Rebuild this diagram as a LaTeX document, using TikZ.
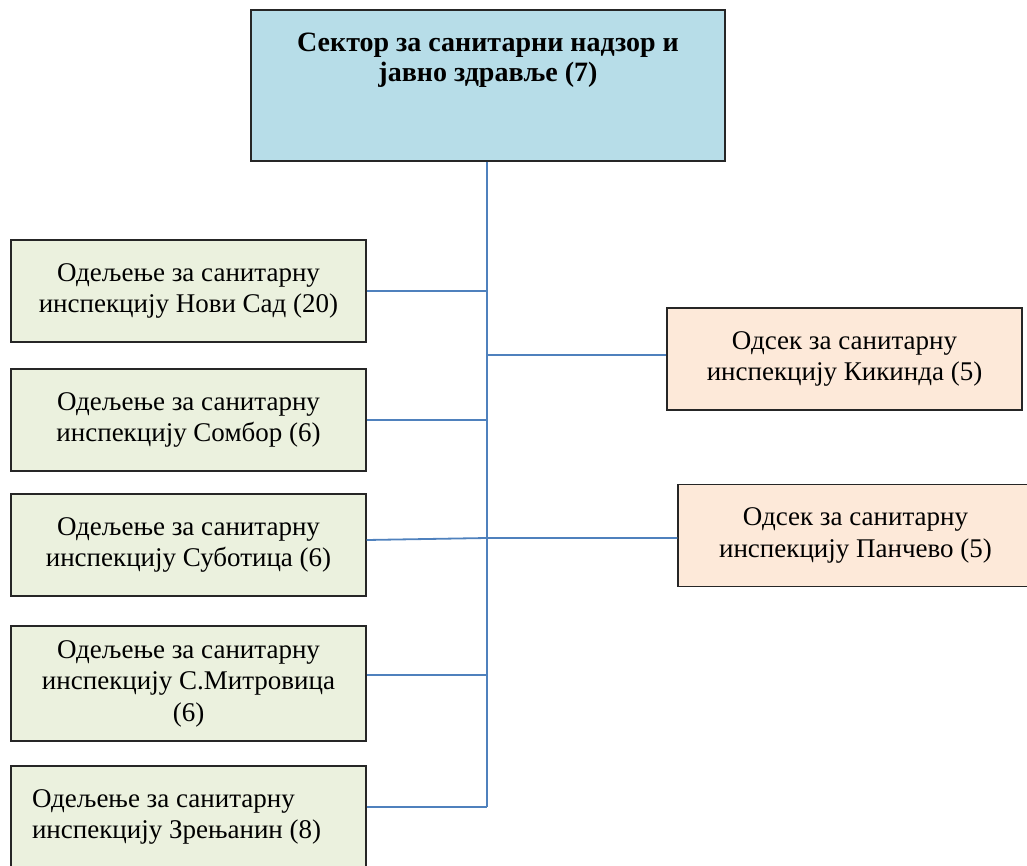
\documentclass[tikz,border=0pt]{standalone}
\usepackage{fontspec}
\setmainfont{Liberation Serif}
\definecolor{sectorblue}{HTML}{B7DDE8}
\definecolor{deptgreen}{HTML}{EBF1DE}
\definecolor{unitpeach}{HTML}{FDE9D9}
\definecolor{linkblue}{HTML}{4F81BD}
\begin{document}
\begin{tikzpicture}[
    x=1pt, y=-1pt,
    every node/.style={font=\fontsize{27}{31.5}\selectfont, align=center, inner sep=0pt},
    box/.style={draw=black!85, line width=1.3pt, minimum height=102pt},
    dept/.style={box, fill=deptgreen, minimum width=355pt},
    unit/.style={box, fill=unitpeach, minimum width=355pt},
    link/.style={draw=linkblue, line width=1.8pt}
    ]
    \useasboundingbox (0,0) rectangle (1027,866);

    \node[box, fill=sectorblue, minimum width=474pt, minimum height=151pt,
          text height=72pt, text depth=79pt, font=\fontsize{28}{30}\selectfont\bfseries]
          (sector) at (488,85.5) {Сектор за санитарни надзор и\\ јавно здравље (7)};

    \node[dept] (novisad) at (188.5,291) {Одељење за санитарну\\ инспекцију Нови Сад (20)};
    \node[dept] (sombor) at (188.5,420) {Одељење за санитарну\\ инспекцију Сомбор (6)};
    \node[dept] (subotica) at (188.5,545) {Одељење за санитарну\\ инспекцију Суботица (6)};
    \node[dept, minimum height=115pt] (mitrovica) at (188.5,683.5) {Одељење за санитарну\\ инспекцију С.Митровица\\ (6)};
    \node[dept, align=flush left, text width=313pt] (zrenjanin) at (188.5,817) {Одељење за санитарну\\ инспекцију Зрењанин (8)};

    \node[unit] (kikinda) at (844.5,359) {Одсек за санитарну\\ инспекцију Кикинда (5)};
    \node[unit] (pancevo) at (855.5,535.5) {Одсек за санитарну\\ инспекцију Панчево (5)};

    % spine and branches
    \coordinate (spineend) at (487,807);
    \draw[link] (sector.south -| spineend) -- (spineend);
    \draw[link] (novisad.east) -- (novisad.east -| spineend);
    \draw[link] (sombor.east) -- (sombor.east -| spineend);
    \draw[link] ([yshift=5pt]subotica.east) -- ([yshift=-2.5pt]pancevo.west -| spineend) -- ([yshift=-2.5pt]pancevo.west);
    \draw[link] ([yshift=8.5pt]mitrovica.east) -- ([yshift=8.5pt]mitrovica.east -| spineend);
    \draw[link] (zrenjanin.east |- spineend) -- (spineend);
    \draw[link] ([yshift=4pt]kikinda.west -| spineend) -- ([yshift=4pt]kikinda.west);

\end{tikzpicture}
\end{document}
